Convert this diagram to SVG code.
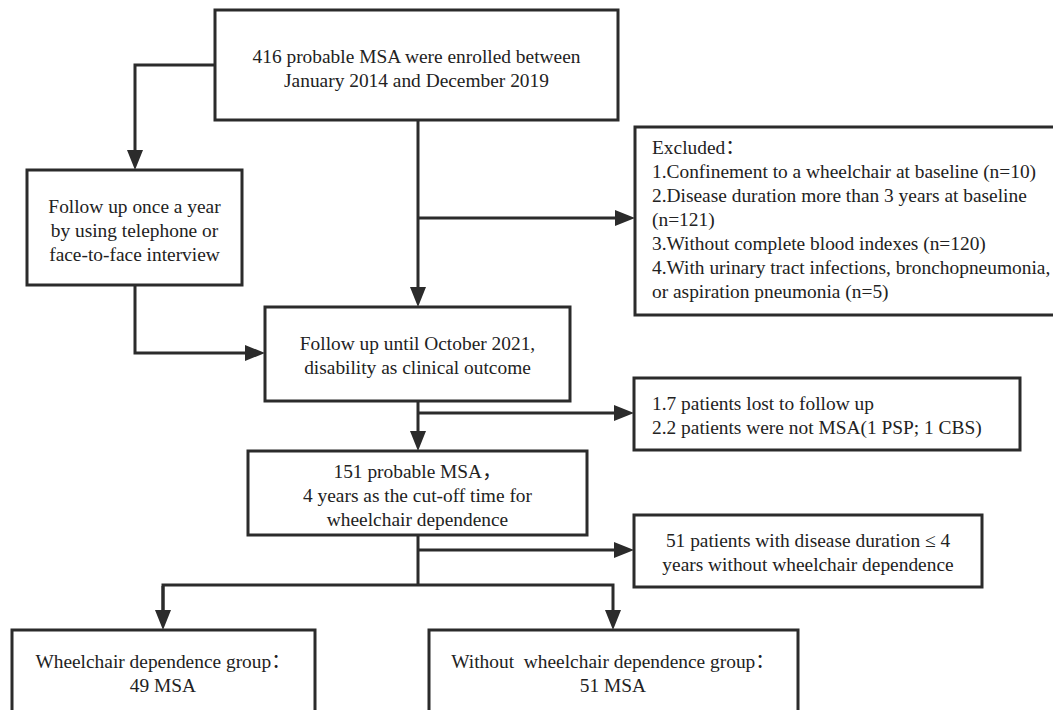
<svg xmlns="http://www.w3.org/2000/svg" width="1053" height="710" viewBox="0 0 1053 710">
<style>
.box{fill:#fff;stroke:#2b2b2b;stroke-width:3}
.ln{fill:none;stroke:#2b2b2b;stroke-width:3;stroke-linejoin:miter}
text{font-family:'Liberation Serif','Times New Roman',Tinos,'DejaVu Serif',serif;font-size:19.4px;fill:#222}
.c{text-anchor:middle}
.cjk{font-family:'Noto Sans CJK SC','Liberation Serif',serif}
</style>
<defs>
<marker id="ah" viewBox="0 0 20 16" refX="2" refY="8" markerWidth="20" markerHeight="16" markerUnits="userSpaceOnUse" orient="auto">
<path d="M0,0 L20,8 L0,16 z" fill="#2b2b2b"/>
</marker>
</defs>
<rect width="1053" height="710" fill="#fff"/>
<g id="connectors">
<path class="ln" d="M215,65 H135 V152" marker-end="url(#ah)"/>
<path class="ln" d="M135,285 V353 H247" marker-end="url(#ah)"/>
<path class="ln" d="M418,120 V289" marker-end="url(#ah)"/>
<path class="ln" d="M418,218 H617" marker-end="url(#ah)"/>
<path class="ln" d="M418,401 V433" marker-end="url(#ah)"/>
<path class="ln" d="M418,413 H616" marker-end="url(#ah)"/>
<path class="ln" d="M418,535 V585"/>
<path class="ln" d="M418,550 H616" marker-end="url(#ah)"/>
<path class="ln" d="M163,612 V585 H613 V612" marker-end="url(#ah)"/>
<path class="ln" d="M163,586 V612" marker-end="url(#ah)"/>
</g>
<g id="enrolled">
<rect class="box" x="215" y="10" width="403" height="110"/>
<text class="c" x="416.5" y="63">416 probable MSA were enrolled between</text>
<text class="c" x="416.5" y="87">January 2014 and December 2019</text>
</g>
<g id="followup-yearly">
<rect class="box" x="27" y="170" width="215" height="115"/>
<text class="c" x="134.5" y="213">Follow up once a year</text>
<text class="c" x="134.5" y="237">by using telephone or</text>
<text class="c" x="134.5" y="261">face-to-face interview</text>
</g>
<g id="excluded">
<rect class="box" x="635" y="127" width="422" height="188"/>
<text x="652" y="154">Excluded<tspan class="cjk">：</tspan></text>
<text x="652" y="178">1.Confinement to a wheelchair at baseline (n=10)</text>
<text x="652" y="202">2.Disease duration more than 3 years at baseline</text>
<text x="652" y="226">(n=121)</text>
<text x="652" y="250">3.Without complete blood indexes (n=120)</text>
<text x="652" y="274">4.With urinary tract infections, bronchopneumonia,</text>
<text x="652" y="298">or aspiration pneumonia (n=5)</text>
</g>
<g id="followup-until">
<rect class="box" x="265" y="307" width="305" height="94"/>
<text class="c" x="417.5" y="350">Follow up until October 2021,</text>
<text class="c" x="417.5" y="374">disability as clinical outcome</text>
</g>
<g id="lost">
<rect class="box" x="634" y="378" width="386" height="72"/>
<text x="652" y="410">1.7 patients lost to follow up</text>
<text x="652" y="434">2.2 patients were not MSA(1 PSP; 1 CBS)</text>
</g>
<g id="probable151">
<rect class="box" x="248" y="451" width="339" height="84"/>
<text class="c" x="417.5" y="478">151 probable MSA<tspan class="cjk">，</tspan></text>
<text class="c" x="417.5" y="502">4 years as the cut-off time for</text>
<text class="c" x="417.5" y="526">wheelchair dependence</text>
</g>
<g id="patients51">
<rect class="box" x="634" y="515" width="348" height="72"/>
<text class="c" x="808" y="547">51 patients with disease duration ≤ 4</text>
<text class="c" x="808" y="571">years without wheelchair dependence</text>
</g>
<g id="wheelchair-group">
<rect class="box" x="12" y="630" width="303" height="100"/>
<text class="c" x="163" y="668">Wheelchair dependence group<tspan class="cjk">：</tspan></text>
<text class="c" x="163" y="692">49 MSA</text>
</g>
<g id="without-group">
<rect class="box" x="429" y="630" width="369" height="100"/>
<text class="c" x="613" y="668" xml:space="preserve">Without  wheelchair dependence group<tspan class="cjk">：</tspan></text>
<text class="c" x="613" y="692">51 MSA</text>
</g>
</svg>
